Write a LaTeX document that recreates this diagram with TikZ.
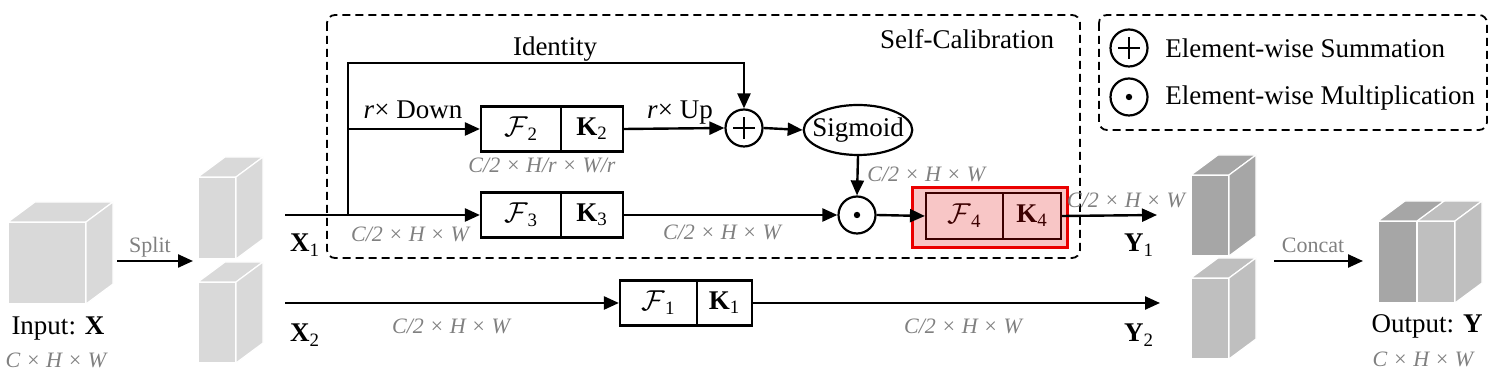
\documentclass[tikz,border=0pt]{standalone}
\usepackage{fontspec}
\setmainfont{Liberation Serif}
\usetikzlibrary{arrows.meta,shapes.geometric}
\definecolor{lblgray}{RGB}{128,128,128}
\definecolor{cubeLight}{RGB}{217,217,217}
\definecolor{cubeDark}{RGB}{166,166,166}
\definecolor{cubeMid}{RGB}{191,191,191}
\definecolor{hlfill}{RGB}{248,198,198}
\definecolor{hlborder}{RGB}{235,0,0}
\definecolor{hlink}{RGB}{60,0,0}
\newcommand\mycube[5]{%
  \filldraw[fill=#5,draw=white,line width=0.6pt] (#1,#2) rectangle (#3,#4);
  \filldraw[fill=#5,draw=white,line width=0.6pt] (#1,#2) -- (#1+27,#2-20) -- (#3+27,#2-20) -- (#3,#2) -- cycle;
  \filldraw[fill=#5,draw=white,line width=0.6pt] (#3,#2) -- (#3+27,#2-20) -- (#3+27,#4-20) -- (#3,#4) -- cycle;
}
\tikzset{
  mainfont/.style={font=\fontsize{13.5}{16}\selectfont},
  graylbl/.style={font=\fontsize{11}{13}\selectfont\itshape, text=lblgray, anchor=base, inner sep=0pt},
  txt/.style={font=\fontsize{13.5}{16}\selectfont, anchor=base, inner sep=0pt},
  smalltxt/.style={font=\fontsize{11}{13}\selectfont, text=lblgray, anchor=base, inner sep=0pt},
  box/.style={draw, line width=1.1pt, minimum height=22.5pt, inner sep=0pt, font=\fontsize{13.5}{16}\selectfont},
  conn/.style={line width=1.2pt},
  arr/.style={line width=1.2pt, -{Triangle[length=7.5pt,width=6.5pt]}},
  sumnode/.style={circle, draw, line width=1.1pt, minimum size=18.5pt, inner sep=0pt,
    path picture={\draw[line width=1.1pt] (path picture bounding box.center) +(-5.5pt,0) -- +(5.5pt,0)
      (path picture bounding box.center) +(0,-5.5pt) -- +(0,5.5pt);}},
  prodnode/.style={circle, draw, line width=1.1pt, minimum size=18.5pt, inner sep=0pt,
    path picture={\fill (path picture bounding box.center) circle (1.6pt);}},
  dashbox/.style={draw, line width=0.9pt, dash pattern=on 4pt off 2.5pt, rounded corners=4pt},
}
\begin{document}
\begin{tikzpicture}[x=0.5pt,y=-0.5pt]
\useasboundingbox (0,0) rectangle (1497,383);

% ---- cubes ----
\mycube{8}{222}{86}{304}{cubeLight}
\mycube{198}{177}{236}{259}{cubeLight}
\mycube{198}{282}{236}{363}{cubeLight}
\mycube{1191}{175}{1229}{256}{cubeDark}
\mycube{1191}{278}{1229}{359}{cubeMid}
% output cube (two halves)
\mycube{1417}{221}{1455}{303}{cubeMid}
\filldraw[fill=cubeDark,draw=white,line width=0.6pt] (1378,221) rectangle (1417,303);
\filldraw[fill=cubeDark,draw=white,line width=0.6pt] (1378,221) -- (1405,201) -- (1444,201) -- (1417,221) -- cycle;

% ---- dashed frames ----
\draw[dashbox] (327,15) rectangle (1080,258);
\draw[dashbox] (1099,15) rectangle (1487,130);
\node[txt] (sclbl) at (967,49) {Self-Calibration};

% ---- legend ----
\node[sumnode] (lgsum) at (1129,48) {};
\node[prodnode] (lgprod) at (1129,97) {};
\node[txt, anchor=base west] (lgsumt) at (1165,58) {Element-wise Summation};
\node[txt, anchor=base west] (lgprodt) at (1165,105) {Element-wise Multiplication};

% ---- highlight ----
\filldraw[fill=hlfill, draw=hlborder, line width=1.5pt] (912,188) rectangle (1067,248);

% ---- boxes ----
\node[box, minimum width=40pt] (f2) at (521,129) {$\mathcal{F}$\textsubscript{2}};
\node[box, minimum width=31pt] (k2) at (592,129) {\textbf{K}\textsubscript{2}};
\node[box, minimum width=40pt] (f3) at (521,215) {$\mathcal{F}$\textsubscript{3}};
\node[box, minimum width=31pt] (k3) at (592,215) {\textbf{K}\textsubscript{3}};
\node[box, minimum width=38.5pt, draw=hlink, text=hlink, minimum height=23pt] (f4) at (964.5,216) {$\mathcal{F}$\textsubscript{4}};
\node[box, minimum width=29pt, draw=hlink, text=hlink, minimum height=23pt] (k4) at (1032,216) {\textbf{K}\textsubscript{4}};
\node[box, minimum width=38.5pt] (f1) at (658.5,303) {$\mathcal{F}$\textsubscript{1}};
\node[box, minimum width=27.5pt] (k1) at (724.5,303) {\textbf{K}\textsubscript{1}};

\node[sumnode] (plus) at (744,128) {};
\node[prodnode] (prod) at (857,215) {};
\node[ellipse, draw, line width=1.1pt, minimum width=54pt, minimum height=25pt, inner xsep=-3.7pt, inner ysep=0pt, mainfont] (sig) at (858,130) {Sigmoid};

% ---- coordinates ----
\coordinate (x1s) at (285,215);
\coordinate (br) at (348,215);
\coordinate (brtop) at (348,63);
\coordinate (y1e) at (1157,215);
\coordinate (x2s) at (285,303);
\coordinate (y2e) at (1160,303);
\coordinate (splits) at (117,261);
\coordinate (splite) at (193,261);
\coordinate (cats) at (1274,261);
\coordinate (cate) at (1363,261);

% ---- connectors ----
\draw[arr] (x1s) -- (f3.west);
\draw[arr] (br) -- (brtop) -| (plus.north);
\draw[arr] (br |- f2.west) -- (f2.west);
\draw[arr] (k2.east) -- (plus.west);
\draw[arr] (plus.east) -- (sig.west);
\draw[arr] (sig.south) -- (prod.north);
\draw[arr] (k3.east) -- (prod.west);
\draw[arr] (prod.east) -- (f4.west);
\draw[arr] (k4.east) -- (y1e);
\draw[arr] (x2s) -- (f1.west);
\draw[arr] (k1.east) -- (y2e);
\draw[arr] (splits) -- (splite);
\draw[arr] (cats) -- (cate);

% ---- labels ----
\node[txt] (idl) at (555,56) {Identity};
\node[txt] (downl) at (413,119) {\textit{r}× Down};
\node[txt] (upl) at (680,119) {\textit{r}× Up};
\node[txt] (x1l) at (305,252) {\textbf{X}\textsubscript{1}};
\node[txt] (x2l) at (305,342) {\textbf{X}\textsubscript{2}};
\node[txt] (y1l) at (1139,252) {\textbf{Y}\textsubscript{1}};
\node[txt] (y2l) at (1139,342) {\textbf{Y}\textsubscript{2}};
\node[txt] (inl) at (58,335) {Input: \textbf{X}};
\node[txt] (outl) at (1427,333) {Output: \textbf{Y}};
\node[smalltxt] (splitl) at (150,253) {Split};
\node[smalltxt] (catl) at (1313,253) {Concat};

\node[graylbl] (g1) at (410,242) {C/2 × H × W};
\node[graylbl] (g2) at (542,173) {C/2 × H/r × W/r};
\node[graylbl] (g3) at (722,240) {C/2 × H × W};
\node[graylbl, anchor=base west] (g4) at (867,182) {C/2 × H × W};
\node[graylbl] (g5) at (1126,208) {C/2 × H × W};
\node[graylbl] (g6) at (451,334) {C/2 × H × W};
\node[graylbl] (g7) at (963,334) {C/2 × H × W};
\node[graylbl] (g8) at (56,368) {C × H × W};
\node[graylbl] (g9) at (1423,367) {C × H × W};
\end{tikzpicture}
\end{document}
